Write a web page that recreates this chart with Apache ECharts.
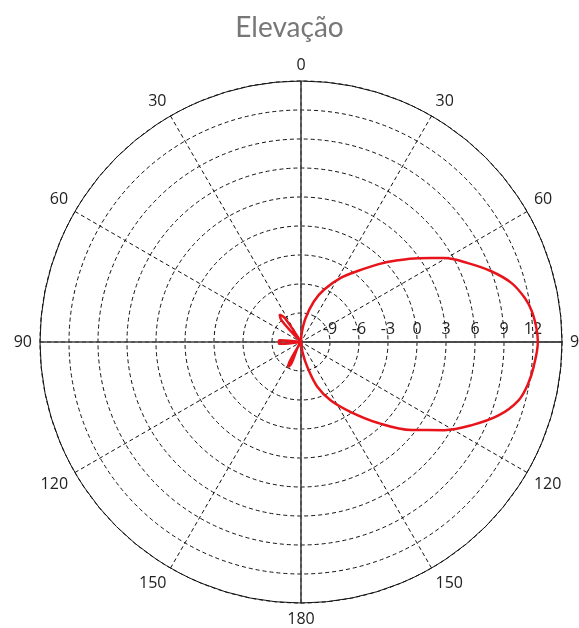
<!DOCTYPE html>
<html>
<head>
<meta charset="utf-8">
<script src="https://cdn.jsdelivr.net/npm/echarts@6/dist/echarts.min.js"></script>
<style>
html,body{margin:0;padding:0;background:#fff;}
#chart{width:579px;height:628px;}
</style>
</head>
<body>
<div id="chart"></div>
<script>
// Elevation pattern: angle (deg, 0 = top, clockwise) and gain (dB)
const angles = [0, 5, 10.8, 17.6, 23.7, 31.8, 38.6, 44.7, 49.8, 54.4, 59.7, 64.7, 69.6, 74.3, 78.9, 82.5, 86.7, 90,
  96.1, 100.3, 105, 110.4, 116.1, 121.6, 128.6, 136.6, 144.6, 153, 160.1, 165.9, 172, 180,
  199, 204, 207, 210, 215, 260, 265, 270, 275, 280, 312, 318, 322, 326, 332, 360];
const gains = [-12, -11, -9.5, -7.6, -6.1, -4.2, -2.6, -0.7, 1.1, 2.9, 5.2, 7.1, 9.0, 10.6, 11.6, 12.1, 12.4, 12.5,
  12.2, 11.9, 11.3, 9.8, 7.6, 5.4, 2.6, -0.5, -3.1, -5.2, -7.1, -9.35, -11, -12,
  -12, -9.6, -9.1, -9.6, -12, -12, -9.8, -9.7, -9.8, -12, -12, -9.0, -8.4, -9.0, -12, -12];
const angleTicks = [0, 30, 60, 90, 120, 150, 180, 150, 120, 90, 60, 30];
const radiusTicks = [-9, -6, -3, 0, 3, 6, 9, 12];

const chart = echarts.init(document.getElementById('chart'));
const labelFont = 'Open Sans';
const center = [301, 342];
const radius = 261;

chart.setOption({
  animation: false,
  backgroundColor: '#fff',
  title: {
    text: 'Elevação',
    left: 'center',
    top: 9,
    textStyle: { fontFamily: 'Lato', fontSize: 28, fontWeight: 'normal', color: '#777' }
  },
  polar: [
    { center: center, radius: radius },
    { center: center, radius: radius }
  ],
  angleAxis: [
    {
      polarIndex: 0, type: 'value', min: 0, max: 360, interval: 30,
      startAngle: 90, clockwise: true,
      axisLine: { show: true, lineStyle: { color: '#111', width: 1 } },
      axisTick: { show: false },
      axisLabel: {
        show: true, margin: 8, fontFamily: labelFont, fontSize: 16, color: '#222',
        formatter: function (v) {
          if (v >= 360) return '';
          return String(angleTicks[Math.round(v / 30)]);
        }
      },
      splitLine: { show: true, lineStyle: { color: '#111', width: 1, type: [4, 3] } }
    },
    {
      polarIndex: 1, type: 'value', min: 0, max: 360, interval: 90,
      startAngle: 0, clockwise: true,
      axisLine: { show: false },
      axisTick: { show: false },
      axisLabel: { show: false },
      splitLine: { show: true, lineStyle: { color: '#444', width: 1.6, type: 'solid' } }
    }
  ],
  radiusAxis: [
    {
      polarIndex: 0, type: 'value', min: -12, max: 15, interval: 3,
      axisLine: { show: false }, axisTick: { show: false }, axisLabel: { show: false },
      splitLine: { show: true, lineStyle: { color: '#111', width: 1, type: [4, 3] } }
    },
    {
      polarIndex: 1, type: 'value', min: -12, max: 15, interval: 3,
      axisLine: { show: true, lineStyle: { color: '#444', width: 1.6 } },
      axisTick: { show: false },
      axisLabel: {
        show: true, inside: true, margin: 5, fontFamily: labelFont, fontSize: 16, color: '#222',
        formatter: function (v) { return radiusTicks.indexOf(v) >= 0 ? String(v) : ''; }
      },
      splitLine: { show: false }
    }
  ],
  series: [{
    type: 'line',
    coordinateSystem: 'polar',
    polarIndex: 0,
    showSymbol: false,
    smooth: 0.35,
    lineStyle: { color: '#e8141b', width: 2.5 },
    data: angles.map(function (a, i) { return [gains[i], a]; })
  }]
});
</script>
</body>
</html>
